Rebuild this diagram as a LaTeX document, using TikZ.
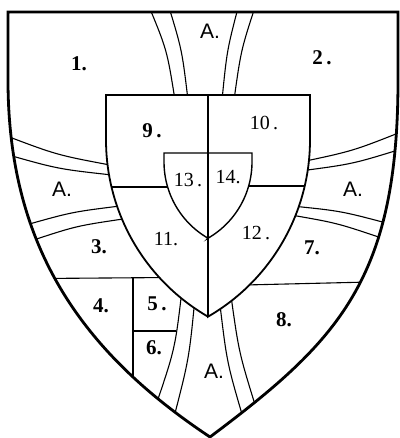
\documentclass[tikz,border=0pt]{standalone}
\usepackage{fontspec}
\setmainfont{Liberation Serif}
\newfontfamily\asans{Liberation Sans}
\begin{document}
\begin{tikzpicture}[x=1pt,y=-1pt,
  thinline/.style={line width=1.1pt},
  numb/.style={inner sep=0pt, font=\fontsize{21}{21}\selectfont\bfseries},
  numl/.style={inner sep=0pt, font=\fontsize{20}{20}\selectfont},
  alab/.style={inner sep=0pt, font=\asans\fontsize{21}{21}\selectfont}]
\fill[white] (0,0) rectangle (399,438);
\useasboundingbox (0,0) rectangle (399,438);
% bands and divisions inside outer shield
\begin{scope}
\clip (8,12) -- (8,80) .. controls (8,250) and (85,354) .. (210,437)
      .. controls (338,341) and (398,280) .. (398,80) -- (398,12) -- cycle;
% top band
\draw[thinline] (175,100) .. controls (167,50) .. (148,4);
\draw[thinline] (188,100) .. controls (182,50) .. (168,4);
\draw[thinline] (222,100) .. controls (227,50) .. (239,4);
\draw[thinline] (234,100) .. controls (241,50) .. (256,4);
% left band
\draw[thinline] (110,165) .. controls (57,155) .. (4,135);
\draw[thinline] (112,175) .. controls (58,169) .. (5,154);
\draw[thinline] (120,206) .. controls (72,212) .. (24,225.5);
\draw[thinline] (123,219) .. controls (76,226) .. (29,241.5);
% right band
\draw[thinline] (301,162) .. controls (353,151) .. (406,130);
\draw[thinline] (300,171) .. controls (353,164) .. (406,147.5);
\draw[thinline] (292,206) .. controls (341,211) .. (390,224);
\draw[thinline] (291,215) .. controls (337,223) .. (383,238.5);
% bottom band
\draw[thinline] (182,290) .. controls (175,349) .. (155,408);
\draw[thinline] (195,298) .. controls (189,359) .. (173,421);
\draw[thinline] (220,305) .. controls (227,363) .. (244,421);
\draw[thinline] (231,296) .. controls (239,353) .. (257,411);
% divisions
\draw[thinline] (40,278.5) -- (170,277.5);
\draw[thinline] (133,278) -- (133,400);
\draw[thinline] (133,331) -- (175.6,331);
\draw[thinline] (245,285) -- (370,282);
\end{scope}
% inner shield
\fill[white] (106,95) -- (106,140)
  -- plot[domain=180:120,samples=40] ({310+204*cos(\x)},{140+204*sin(\x)})
  -- plot[domain=60:0,samples=40] ({106+204*cos(\x)},{140+204*sin(\x)})
  -- (310,95) -- cycle;
\begin{scope}
\clip (106,95) -- (106,140)
  -- plot[domain=180:120,samples=40] ({310+204*cos(\x)},{140+204*sin(\x)})
  -- plot[domain=60:0,samples=40] ({106+204*cos(\x)},{140+204*sin(\x)})
  -- (310,95) -- cycle;
\draw[thinline] (100,187) -- (180,187);
\draw[thinline] (236,186) -- (320,186);
\fill[white] (164,153) -- (164,162)
  -- plot[domain=180:120,samples=30] ({252+88*cos(\x)},{162+88*sin(\x)})
  -- plot[domain=60:0,samples=30] ({164+88*cos(\x)},{162+88*sin(\x)})
  -- (252,153) -- cycle;
\draw[thinline] (208,90) -- (208,320);
\draw[line width=1.4pt] (164,153) -- (164,162)
  -- plot[domain=180:120,samples=30] ({252+88*cos(\x)},{162+88*sin(\x)})
  -- plot[domain=60:0,samples=30] ({164+88*cos(\x)},{162+88*sin(\x)})
  -- (252,153) -- cycle;
\end{scope}
\draw[line width=1.8pt] (106,95) -- (106,140)
  -- plot[domain=180:120,samples=40] ({310+204*cos(\x)},{140+204*sin(\x)})
  -- plot[domain=60:0,samples=40] ({106+204*cos(\x)},{140+204*sin(\x)})
  -- (310,95) -- cycle;
% outer shield
\draw[line width=2.8pt] (8,12) -- (8,80) .. controls (8,250) and (85,354) .. (210,437)
      .. controls (338,341) and (398,280) .. (398,80) -- (398,12) -- cycle;
% labels
\node[numb] (l1) at (79,64) {1.};
\node[alab] (atop) at (210,31) {A.};
\node[numb] (l2) at (322,58) {2\,.};
\node[numb] (l9) at (152,131) {9\,.};
\node[numl] (l10) at (264,123) {10\,.};
\node[numl] (l13) at (188,180) {13\,.};
\node[numl] (l14) at (228,177) {14.};
\node[alab] (aleft) at (62,189) {A.};
\node[alab] (aright) at (353,189) {A.};
\node[numb] (l3) at (99,247) {3.};
\node[numl] (l11) at (166,239) {11.};
\node[numl] (l12) at (256,233) {12\,.};
\node[numb] (l7) at (312,248) {7.};
\node[numb] (l4) at (101,306) {4.};
\node[numb] (l5) at (157,304) {5\,.};
\node[numb] (l6) at (154,348) {6.};
\node[alab] (abot) at (214,371) {A.};
\node[numb] (l8) at (284,320) {8.};
\end{tikzpicture}
\end{document}
